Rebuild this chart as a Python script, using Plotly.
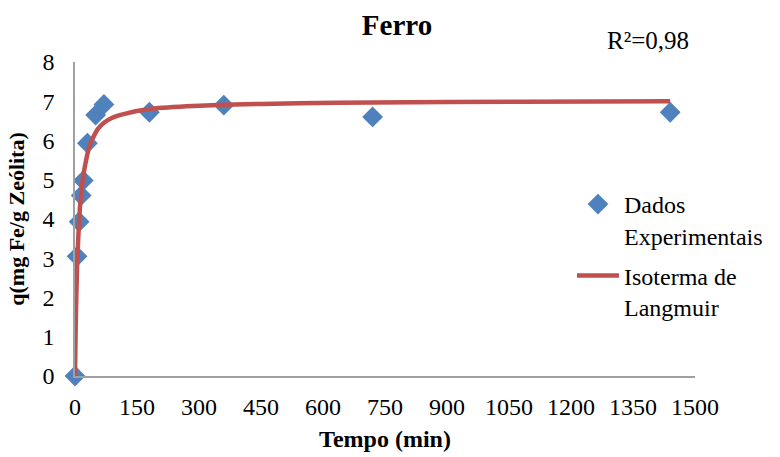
import plotly.graph_objects as go

tempo_exp = [0, 5, 10, 15, 20, 30, 50, 70, 180, 360, 720, 1440]
q_exp = [0, 3.05, 3.93, 4.6, 4.98, 5.93, 6.65, 6.92, 6.72, 6.9, 6.6, 6.72]

# Langmuir curve
tempo_fit = [0, 1, 2, 3, 5, 8, 12, 16, 20, 25, 30, 36, 45, 56, 70, 90, 120, 180,
             270, 360, 540, 720, 1080, 1440]
q_fit = [0, 0.8, 1.45, 1.95, 2.75, 3.55, 4.3, 4.75, 5.1, 5.4, 5.65, 5.9, 6.1, 6.3,
         6.45, 6.58, 6.68, 6.8, 6.87, 6.91, 6.95, 6.97, 6.99, 7.0]

x_ticks = [0, 150, 300, 450, 600, 750, 900, 1050, 1200, 1350, 1500]
y_ticks = [0, 1, 2, 3, 4, 5, 6, 7, 8]

FONT = "Liberation Serif"

W, H = 780, 457
L, R, T, B = 75, 80, 62, 81
PW, PH = W - L - R, H - T - B

fig = go.Figure()
fig.add_trace(go.Scatter(
    x=tempo_exp, y=q_exp, mode="markers", name="Dados<br>Experimentais",
    marker=dict(symbol="diamond", size=16, color="#4F81BD"),
    cliponaxis=False, legendgroup="a",
))
fig.add_trace(go.Scatter(
    x=tempo_fit, y=q_fit, mode="lines", name="Isoterma de<br>Langmuir",
    line=dict(color="#C0504D", width=4.5, shape="spline", smoothing=0.6),
    cliponaxis=False, legendgroup="b",
))

fig.update_layout(
    width=W, height=H,
    margin=dict(l=L, r=R, t=T, b=B),
    paper_bgcolor="white", plot_bgcolor="white",
    font=dict(family=FONT, size=24, color="black"),
    title=dict(text="<b>Ferro</b>", x=397 / W, xanchor="center",
               y=1 - 25 / H, yanchor="middle", font=dict(size=29, family=FONT)),
    legend=dict(x=(576 - L) / PW, y=(H - B - 182) / PH,
                xanchor="left", yanchor="top", valign="top",
                bgcolor="rgba(0,0,0,0)", font=dict(size=24, family=FONT),
                tracegroupgap=6, itemwidth=42),
    showlegend=True,
    hovermode=False,
    annotations=[dict(text="R²=0,98", x=(653 - L) / PW, y=(H - B - 40) / PH,
                      xref="paper", yref="paper", showarrow=False,
                      font=dict(size=25, family=FONT), xanchor="center", yanchor="middle")],
)
fig.update_xaxes(
    range=[0, 1500], tickvals=x_ticks, ticktext=[str(v) for v in x_ticks],
    showgrid=False, zeroline=False, showline=True, linecolor="#A0A0A0", linewidth=1.5,
    ticks="", ticklabelstandoff=8, automargin=False, tickfont=dict(size=24),
    title=dict(text="<b>Tempo (min)</b>", font=dict(size=24, family=FONT), standoff=12),
)
fig.update_yaxes(
    range=[0, 8], tickvals=y_ticks, ticktext=[str(v) for v in y_ticks],
    showgrid=False, zeroline=False, showline=True, linecolor="#A0A0A0", linewidth=1.5,
    ticks="", ticklabelstandoff=14, automargin=False, tickfont=dict(size=24),
    title=dict(text="<b>q(mg Fe/g Zeólita)</b>", font=dict(size=22, family=FONT), standoff=12),
)

fig.write_html(
    "out.html",
    config={"displayModeBar": False},
    post_script="document.body.style.margin='0';document.body.style.overflow='hidden';",
)
